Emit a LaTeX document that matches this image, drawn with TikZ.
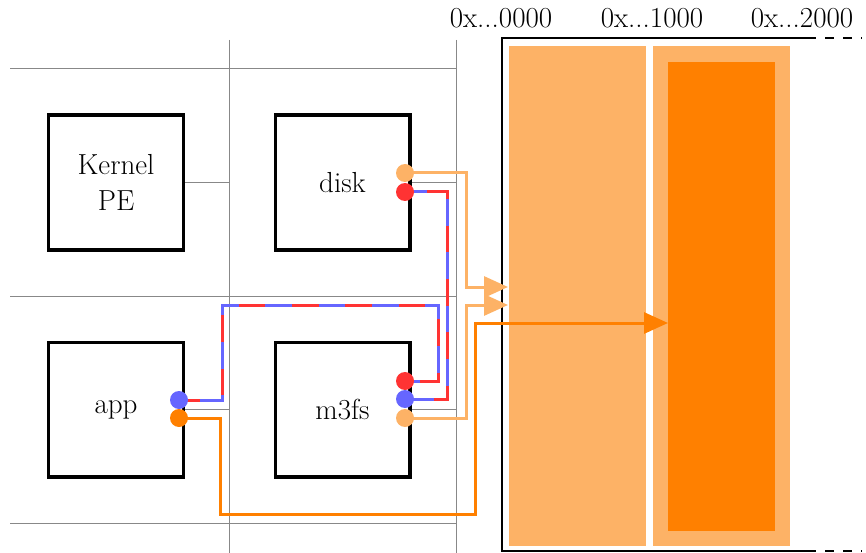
\documentclass[tikz,border=0pt]{standalone}
\usepackage{fontspec}
\usetikzlibrary{arrows.meta}
\definecolor{lor}{RGB}{253,178,102}
\definecolor{dor}{RGB}{255,128,0}
\definecolor{cred}{RGB}{255,51,51}
\definecolor{cblue}{RGB}{102,102,255}
\definecolor{gridc}{RGB}{136,136,136}
\pgfdeclarelayer{bg}
\pgfdeclarelayer{conn}
\pgfsetlayers{bg,conn,main}
\begin{document}
\begin{tikzpicture}[x=1pt,y=-1pt,
  pebox/.style={draw=black,line width=3.3pt,minimum width=134.7pt,minimum height=134.7pt,inner sep=0pt,align=center,font=\fontsize{29}{36}\selectfont},
  dot/.style={circle,inner sep=0pt,minimum size=18pt},
  gridline/.style={draw=gridc,line width=1pt},
  wire/.style={line width=3pt},
  tip/.style={-{Triangle[length=24pt,width=21pt]}},
  addr/.style={anchor=base,font=\fontsize{29}{36}\selectfont,inner sep=0pt},
  page/.style={fill=lor,inner sep=0pt,anchor=north west},
  frame/.style={draw=black,line width=2pt},
  dashes/.style={dash pattern=on 26.7pt off 26.7pt}]
\useasboundingbox (0,0) rectangle (866,553);

% PE boxes
\node[pebox] (kernel) at (116,182.5) {Kernel\\PE};
\node[pebox] (disk) at (342.5,182.5) {disk};
\node[pebox] (app) at (116,409.5) {app};
\node[pebox] (m3fs) at (342.5,409.5) {m3fs};

% endpoints
\node[dot,fill=lor] (diskO) at (405,173) {};
\node[dot,fill=cred] (diskR) at (405,192) {};
\node[dot,fill=cblue] (appB) at (179,400) {};
\node[dot,fill=dor] (appO) at (179,418) {};
\node[dot,fill=cred] (m3R) at (405,381) {};
\node[dot,fill=cblue] (m3B) at (405,399) {};
\node[dot,fill=lor] (m3O) at (405,418) {};

% address labels
\node[addr] (a0) at (501,28) {0x...0000};
\node[addr] (a1) at (652,28) {0x...1000};
\node[addr] (a2) at (802,28) {0x...2000};

\begin{pgfonlayer}{bg}
  % grid
  \draw[gridline] (10,69) -- (456,69);
  \draw[gridline] (10,296) -- (456,296);
  \draw[gridline] (10,523) -- (456,523);
  \draw[gridline] (229,40) -- (229,553);
  \draw[gridline] (456,40) -- (456,553);
  \draw[gridline] (kernel.east) -- (229,182.5);
  \draw[gridline] (disk.east) -- (456,182.5);
  \draw[gridline] (app.east) -- (229,409.5);
  \draw[gridline] (m3fs.east) -- (456,409.5);
  % memory
  \node[page,minimum width=137pt,minimum height=500pt] (pg0) at (509,46) {};
  \node[page,minimum width=137pt,minimum height=500pt] (pg1) at (653,46) {};
  \node[fill=dor,inner sep=0pt,anchor=north west,minimum width=107pt,minimum height=469pt] (buf) at (668,62) {};
  \draw[frame] (807,38) -- (502,38) -- (502,551) -- (807,551);
  \draw[frame,dash pattern=on 9pt off 9pt] (807,38) -- (862,38);
  \draw[frame,dash pattern=on 9pt off 9pt] (807,551) -- (862,551);
\end{pgfonlayer}

\begin{pgfonlayer}{conn}
  \coordinate (in1) at (508,287);
  \coordinate (in2) at (508,305);
  \coordinate (in3) at (668,323);
  \draw[wire,lor,tip] (diskO.center) -| (466,287) -- (in1);
  \draw[wire,lor,tip] (m3O.center) -| (466,305) -- (in2);
  \draw[wire,dor,tip] (appO.center) -| (220,514) -| (475,323) -- (in3);
  \draw[wire,cblue] (appB.center) -| (222,305) -| (438,381) -- (m3R.center);
  \draw[wire,cred,dashes,dash phase=5.7pt] (appB.center) -| (222,305) -| (438,381) -- (m3R.center);
  \draw[wire,cblue] (diskR.center) -| (447,399) -- (m3B.center);
  \draw[wire,cred,dashes,dash phase=31.3pt] (diskR.center) -| (447,399) -- (m3B.center);
\end{pgfonlayer}
\end{tikzpicture}
\end{document}
